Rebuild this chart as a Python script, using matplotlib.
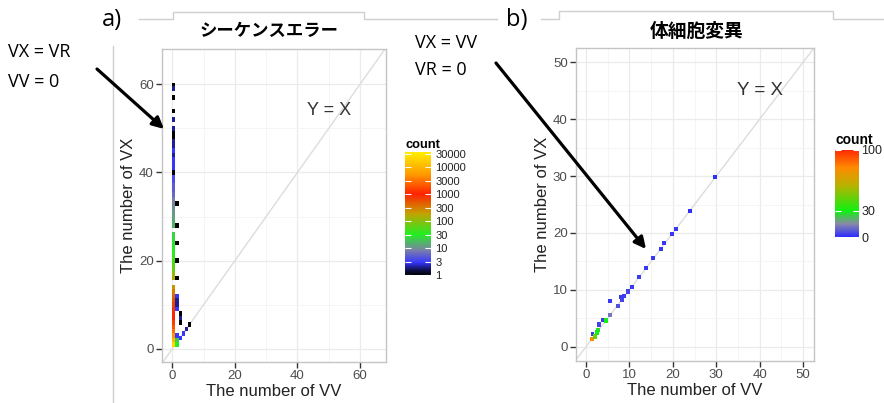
import matplotlib
matplotlib.use("Agg")
import matplotlib.pyplot as plt
from matplotlib.colors import LinearSegmentedColormap, LogNorm, Normalize
from matplotlib.cm import ScalarMappable

# a) シーケンスエラー : VV, VX, count
seq_vv = [0.5, 0.5, 0.5, 0.5, 0.5, 0.5, 0.5, 0.5, 0.5, 0.5, 0.5, 0.5, 0.5, 0.5,
          0.5, 0.5, 0.5, 0.5, 0.5, 0.5, 0.5, 0.5, 0.5, 0.5, 0.5,
          0.5, 0.5, 0.5, 0.5, 0.5, 0.5, 0.5, 0.5, 0.5, 0.5, 0.5, 0.5, 0.5, 0.5, 0.5, 0.5,
          0.5, 0.5, 0.5, 0.5, 0.5, 0.5, 0.5, 0.5, 0.5, 0.5, 0.5,
          1.5, 1.5, 1.5, 1.5, 1.5, 1.5, 1.5, 1.5, 1.5, 1.5, 1.5, 1.5,
          2.5, 2.5, 2.5, 2.5, 3.5, 4.5, 5.5]
seq_vx = [1, 2, 3, 4, 5, 6, 7, 8, 9, 10, 11, 12, 13, 14,
          16, 17, 18, 19, 20, 21, 22, 23, 24, 25, 26,
          28, 29, 30, 31, 32, 33, 34, 35, 36, 37, 38, 39, 40, 41, 42, 43,
          44, 45, 46, 47, 48, 49, 50, 52, 54, 57, 59,
          1, 2, 3, 9, 10, 11, 12, 16, 20, 24, 28, 33,
          2.5, 6, 7, 8, 3.5, 4.5, 5.5]
seq_count = [20000, 10000, 5000, 3000, 2000, 1400, 1000, 900, 800, 650, 500, 400, 300, 220,
             150, 100, 70, 55, 45, 40, 35, 30, 28, 25, 22,
             16, 14, 12, 11, 10, 9, 8, 6, 5, 5, 4, 4, 1, 3, 3, 3,
             2, 3, 2, 2, 1, 1, 2, 2, 1, 1, 2,
             30, 20, 3, 3, 2, 2, 3, 1, 1, 1, 1, 1,
             3, 1, 2, 1, 3, 2, 1]
seq_top_vv = [0.5]
seq_top_vx = [60]
seq_top_count = [1]

# b) 体細胞変異 : VV, VX, count
som_vv = [1.4, 1.5, 2.0, 2.5, 2.8, 3.1, 4.0, 4.6, 5.5, 5.5, 7.3, 8.0, 8.3, 8.8,
          9.7, 10.6, 12.2, 13.8, 15.5, 17.2, 18.0, 19.8, 20.7, 24.0, 29.7]
som_vx = [1.4, 2.2, 1.8, 2.5, 3.0, 3.9, 4.7, 4.6, 5.6, 8.1, 7.2, 8.8, 8.2, 8.9,
          9.7, 10.5, 12.3, 13.9, 15.6, 17.2, 18.2, 19.8, 20.7, 23.9, 29.8]
som_count = [80, 3, 45, 30, 28, 4, 3, 30, 12, 2, 6, 2, 4, 3,
             4, 3, 3, 2, 2, 2, 2, 2, 2, 1, 1]

seq_ticks = [1, 3, 10, 30, 100, 300, 1000, 3000, 10000, 30000]
som_ticks = [0, 30, 100]

W, H = 884, 403
fig = plt.figure(figsize=(W / 100, H / 100), dpi=100)


def box(l, t, r, b):
    return [l / W, (H - b) / H, (r - l) / W, (b - t) / H]


cmap_a = LinearSegmentedColormap.from_list("seq", [
    (0.0, "#000000"), (0.04, "#101050"), (0.1, "#3535ff"), (0.2, "#7c80a8"),
    (0.33, "#22ee22"), (0.5, "#c4a200"), (0.66, "#ff2200"), (0.82, "#ff9a00"),
    (1.0, "#ffee00")])
norm_a = LogNorm(vmin=1, vmax=35000)
cmap_b = LinearSegmentedColormap.from_list("som", [
    (0.0, "#2a2aff"), (0.15, "#8a8aa8"), (0.3, "#10f010"), (0.6, "#bcb000"),
    (0.8, "#ff8a00"), (1.0, "#ff2a00")])
norm_b = Normalize(vmin=0, vmax=100)

tick_c = "#4d4d4d"
sans = "Liberation Sans"


def style(ax, lim, major, minor):
    ax.set_xlim(*lim[0])
    ax.set_ylim(*lim[1])
    ax.set_xticks(major)
    ax.set_yticks(major)
    ax.set_xticks(minor, minor=True)
    ax.set_yticks(minor, minor=True)
    ax.grid(True, which="major", color="#ebebeb", lw=0.9)
    ax.grid(True, which="minor", color="#f4f4f4", lw=0.6)
    ax.set_axisbelow(True)
    for s in ax.spines.values():
        s.set_color("#c4c4c4")
        s.set_linewidth(1.0)
    ax.tick_params(which="major", direction="out", length=4, width=1, color="#333333",
                   labelcolor=tick_c, labelsize=9.5, pad=2)
    ax.tick_params(which="minor", length=0)
    for lab in ax.get_xticklabels() + ax.get_yticklabels():
        lab.set_family(sans)
    ax.set_xlabel("The number of VV", family=sans, fontsize=12, color="#222222", labelpad=1)
    ax.set_ylabel("The number of VX", family=sans, fontsize=12, color="#222222", labelpad=2)
    ax.axline((0, 0), slope=1, color="#dcdcdc", lw=1.0, zorder=1)


# panel a
ax1 = fig.add_axes(box(162, 49, 386, 362))
style(ax1, ((-3.3, 68.3), (-3.0, 68.0)), [0, 20, 40, 60], [10, 30, 50])
ax1.bar(seq_vv, 1, bottom=[v - 0.5 for v in seq_vx], width=1,
        color=cmap_a(norm_a(seq_count)), linewidth=0, zorder=3)
ax1.bar(seq_top_vv, 0.8, bottom=[v - 0.4 for v in seq_top_vx], width=1,
        color=cmap_a(norm_a(seq_top_count)), linewidth=0, zorder=3)
ax1.text(50, 54, "Y = X", family=sans, fontsize=13, color="#333333", ha="center", va="center")

# panel b
ax2 = fig.add_axes(box(576, 48, 814, 361))
style(ax2, ((-2.3, 52.5), (-2.5, 52.5)), [0, 10, 20, 30, 40, 50], [5, 15, 25, 35, 45])
ax2.bar(som_vv, 0.75, bottom=[v - 0.375 for v in som_vx], width=0.9,
        color=cmap_b(norm_b(som_count)), linewidth=0, zorder=3)
ax2.text(40, 45, "Y = X", family=sans, fontsize=13.5, color="#333333", ha="center", va="center")


def colorbar(cmap, norm, rect, ticks, fs, title_y, title_fs, pad):
    cax = fig.add_axes(rect)
    cb = fig.colorbar(ScalarMappable(norm=norm, cmap=cmap), cax=cax)
    cb.outline.set_visible(False)
    cb.ax.minorticks_off()
    cb.set_ticks(ticks)
    cb.set_ticklabels([str(t) for t in ticks])
    cax.tick_params(direction="in", length=4, width=0.8, color="white",
                    left=True, right=True, labelleft=False, labelright=True,
                    labelsize=fs, labelcolor="#222222", pad=pad)
    for lab in cax.get_yticklabels():
        lab.set_family(sans)
    cax.text(0, title_y, "count", transform=cax.transAxes, family=sans,
             fontsize=title_fs, fontweight="bold", ha="left", va="bottom")
    return cb


colorbar(cmap_a, norm_a, box(405, 152, 431, 275), seq_ticks, 8, 1.01, 9.3, 3)
colorbar(cmap_b, norm_b, box(835, 150, 859, 237), som_ticks, 9, 1.03, 10, 1.5)

# overlay for frames, titles and arrows
ov = fig.add_axes([0, 0, 1, 1], zorder=10)
ov.set_xlim(0, W)
ov.set_ylim(H, 0)
ov.axis("off")
ov.patch.set_alpha(0)

fc = "#cfcfcf"
ov.plot([139, 173, 173, 364, 364, 497], [19, 19, 12, 12, 19, 19], color=fc, lw=1)
ov.plot([541, 559, 559, 833, 833, 884], [19, 19, 11, 11, 19, 19], color=fc, lw=1)
ov.plot([113, 113], [46, 403], color=fc, lw=1)

ov.text(102, 20, "a)", family="Open Sans", fontsize=17, ha="left", va="center")
ov.text(506, 20, "b)", family="Open Sans", fontsize=17, ha="left", va="center")
ov.text(269, 31, "シーケンスエラー", family=["Noto Sans CJK JP", "DejaVu Sans"],
        fontsize=12.5, fontweight="bold", ha="center", va="center")
ov.text(697, 31, "体細胞変異", family=["Noto Sans CJK JP", "DejaVu Sans"],
        fontsize=13.5, fontweight="bold", ha="center", va="center")

ov.text(8, 52, "VX = VR", family="Open Sans", fontsize=13, ha="left", va="center")
ov.text(8, 82, "VV = 0", family="Open Sans", fontsize=13, ha="left", va="center")
ov.text(415, 43, "VX = VV", family="Open Sans", fontsize=13, ha="left", va="center")
ov.text(415, 70, "VR = 0", family="Open Sans", fontsize=13, ha="left", va="center")

arrow = dict(arrowstyle="-|>", lw=2.3, color="black", mutation_scale=17,
             shrinkA=0, shrinkB=0)
ov.annotate("", xy=(164, 129), xytext=(97, 69), arrowprops=arrow)
ov.annotate("", xy=(646, 249), xytext=(496, 63), arrowprops=arrow)

fig.savefig("out.png", dpi=100)
